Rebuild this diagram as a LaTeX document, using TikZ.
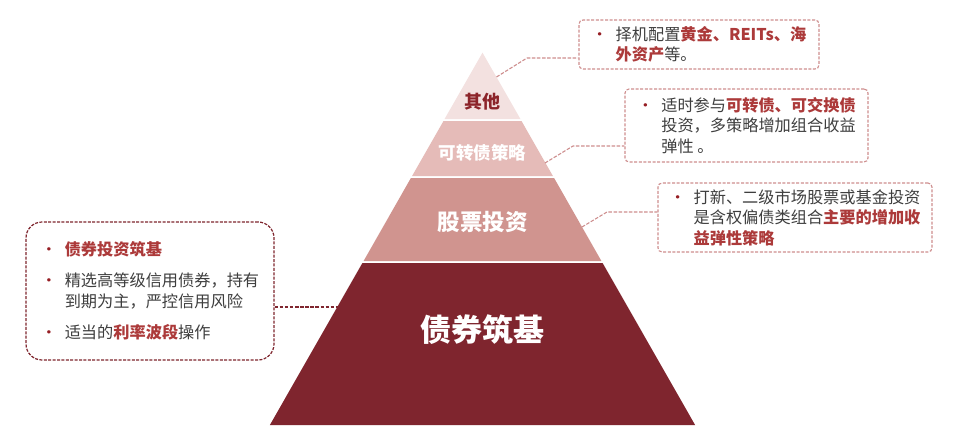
\documentclass[tikz,border=0pt]{standalone}
\usepackage{fontspec}
\newfontfamily\cjk{Noto Sans CJK SC}
\usepackage{tikz}
\usepackage{color}

\definecolor{bondRed}{RGB}{127,37,46}
\definecolor{stockRose}{RGB}{208,148,143}
\definecolor{cbPink}{RGB}{229,187,184}
\definecolor{otherPink}{RGB}{243,225,224}
\definecolor{otherText}{RGB}{140,36,42}
\definecolor{keyRed}{RGB}{172,58,58}
\definecolor{bodyGray}{RGB}{62,62,62}
\definecolor{notePink}{RGB}{206,142,142}
\definecolor{bulletRed}{RGB}{150,30,36}

\newcommand{\hl}[1]{{\bfseries\color{keyRed}#1}}
\newcommand{\bul}{\makebox[24pt][l]{\color{bulletRed}\textbullet}}
\newcommand{\ind}{\hspace*{24pt}}

\begin{document}
\begin{tikzpicture}[x=1pt,y=1pt,yscale=-1,xscale=1,
  note/.style={draw=notePink,line width=1.1pt,dash pattern=on 3pt off 1.6pt,rounded corners=4pt,
    align=left,inner sep=0pt,text=bodyGray,font=\cjk\fontsize{16.2}{20.5}\selectfont},
  basenote/.style={note,draw=bondRed,line width=1.2pt,rounded corners=16pt,dash pattern=on 3pt off 1.4pt},
  link/.style={draw=notePink,line width=1.1pt,dash pattern=on 3.5pt off 1.6pt},
  layerlabel/.style={inner sep=0pt,text=white,font=\cjk\bfseries}]
\useasboundingbox[fill=white] (0,0) rectangle (954,434);

%Shape: Trapezoid (bond layer)
\fill[bondRed] (362.4,263) -- (602.6,263) -- (695.1,425) -- (269.9,425) -- cycle;
%Shape: Trapezoid (stock layer)
\fill[stockRose] (410.9,178) -- (554.1,178) -- (601.4,261) -- (363.6,261) -- cycle;
%Shape: Trapezoid (convertible layer)
\fill[cbPink] (443.5,121) -- (521.5,121) -- (552.9,176) -- (412.1,176) -- cycle;
%Shape: Triangle (other layer)
\fill[otherPink] (482.5,52.7) -- (520.4,119) -- (444.6,119) -- cycle;

%Layer labels
\node[layerlabel,text=otherText,font=\cjk\bfseries\fontsize{18}{18}\selectfont] (otherLbl) at (482.5,102) {其他};
\node[layerlabel,font=\cjk\bfseries\fontsize{17.5}{17.5}\selectfont] (cbLbl) at (482.5,153) {可转债策略};
\node[layerlabel,font=\cjk\bfseries\fontsize{22.5}{22.5}\selectfont] (stockLbl) at (482.5,222) {股票投资};
\node[layerlabel,font=\cjk\bfseries\fontsize{31}{31}\selectfont] (bondLbl) at (482.5,330) {债券筑基};

%Note boxes
\node[note,minimum width=240pt,minimum height=49pt] (otherNote) at (699,44.5)
  {\bul 择机配置\hl{黄金、REITs、海}\\ \ind\hl{外资产}等。};
\node[note,minimum width=243pt,minimum height=73pt] (cbNote) at (746.5,125.5)
  {\bul 适时参与\hl{可转债、可交换债}\\ \ind 投资，多策略增加组合收益\\ \ind 弹性 。};
\node[note,minimum width=274pt,minimum height=69pt] (stockNote) at (795,217.5)
  {\bul 打新、二级市场股票或基金投资\\ \ind 是含权偏债类组合\hl{主要的增加收}\\ \ind\hl{益弹性策略}};
\node[basenote,minimum width=248pt,minimum height=138pt] (bondNote) at (150,291)
  {\bul\hl{债券投资筑基}\\[10.5pt] \bul 精选高等级信用债券，持有\\ \ind 到期为主，严控信用风险\\[10.5pt] \bul 适当的\hl{利率波段}操作};

%Connector points on the pyramid
\coordinate (otherEdge) at (496.5,77);
\coordinate (otherBend) at (527,58);
\coordinate (cbEdge) at (545,163);
\coordinate (cbBend) at (573,146);
\coordinate (stockEdge) at (582,227);
\coordinate (stockBend) at (607,212);
\coordinate (bondEdge) at (337.5,307);

%Straight Lines
\draw[link] (otherEdge) -- (otherBend) -- (otherBend -| otherNote.west);
\draw[link] (cbEdge) -- (cbBend) -- (cbBend -| cbNote.west);
\draw[link] (stockEdge) -- (stockBend) -- (stockBend -| stockNote.west);
\draw[link,draw=bondRed,line width=1.2pt] (bondNote.east |- bondEdge) -- (bondEdge);

\end{tikzpicture}
\end{document}
